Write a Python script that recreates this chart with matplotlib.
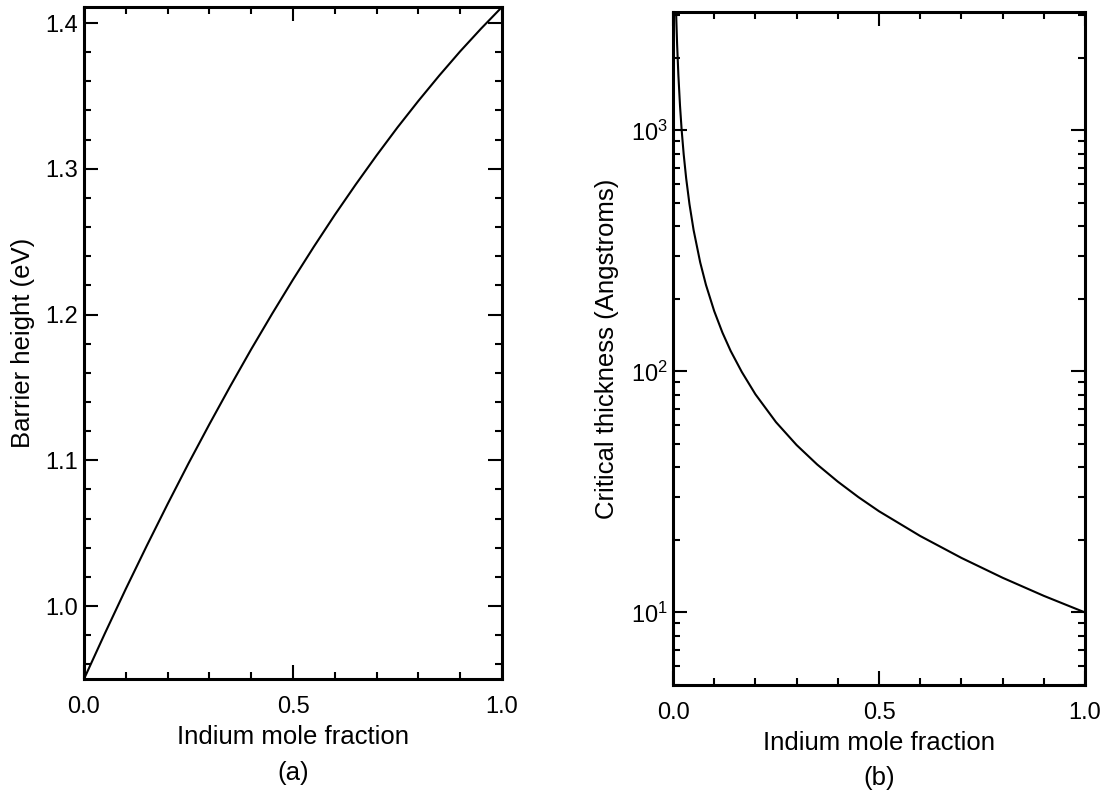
import matplotlib
matplotlib.use("Agg")
import matplotlib.pyplot as plt
from matplotlib.ticker import MultipleLocator, FixedLocator, LogLocator, NullFormatter, LogFormatterMathtext

plt.rcParams['font.family'] = ['Liberation Sans', 'DejaVu Sans']
plt.rcParams['mathtext.fontset'] = 'custom'
plt.rcParams['mathtext.rm'] = 'Liberation Sans'
plt.rcParams['mathtext.it'] = 'Liberation Sans:italic'

# (a) barrier height versus indium mole fraction
indium_a = [0.00, 0.05, 0.10, 0.15, 0.20, 0.25, 0.30, 0.35, 0.40, 0.45, 0.50,
            0.55, 0.60, 0.65, 0.70, 0.75, 0.80, 0.85, 0.90, 0.95, 1.00]
barrier_ev = [0.9500, 0.9813, 1.0118, 1.0413, 1.0700, 1.0979, 1.1248, 1.1509, 1.1762,
              1.2005, 1.2240, 1.2466, 1.2684, 1.2892, 1.3092, 1.3284, 1.3466, 1.3640,
              1.3806, 1.3962, 1.4110]

# (b) critical thickness versus indium mole fraction
indium_b = [0.006, 0.008, 0.010, 0.013, 0.017, 0.021, 0.026, 0.032, 0.040, 0.050,
            0.066, 0.080, 0.100, 0.120, 0.140, 0.167, 0.200, 0.250, 0.300, 0.350,
            0.400, 0.450, 0.500, 0.600, 0.700, 0.800, 0.900, 1.000]
thickness_ang = [3985, 2904, 2272, 1702, 1267, 1004, 794, 632, 494, 386,
                 283.5, 228.6, 178, 144.9, 121.6, 99.5, 80.4, 61.6, 49.5, 41.1,
                 34.9, 30.1, 26.3, 20.76, 16.84, 13.93, 11.72, 10]

x_ticks = [0.0, 0.5, 1.0]
x_tick_labels = ['0.0', '0.5', '1.0']
x_label = 'Indium mole fraction'

TICK_FS = 17
LABEL_FS = 18.5

fig = plt.figure(figsize=(11.1, 7.94), dpi=100)
ax_a = fig.add_axes([84 / 1110, (794 - 679) / 794, 418 / 1110, 672 / 794])
ax_b = fig.add_axes([673 / 1110, (794 - 685) / 794, 412 / 1110, 673 / 794])


def style(ax):
    for sp in ax.spines.values():
        sp.set_linewidth(2.2)
    ax.tick_params(which='both', direction='in', top=True, right=True, width=1.5,
                   colors='black', labelsize=TICK_FS)
    ax.tick_params(which='major', length=10)
    ax.tick_params(which='minor', length=5)
    ax.tick_params(axis='x', which='major', pad=12)
    ax.tick_params(axis='y', which='major', pad=4)
    ax.xaxis.set_major_locator(FixedLocator(x_ticks))
    ax.set_xticklabels(x_tick_labels)
    ax.xaxis.set_minor_locator(MultipleLocator(0.1))
    ax.set_xlim(0, 1)
    ax.set_xlabel(x_label, fontsize=LABEL_FS, labelpad=5)


# panel (a)
ax_a.plot(indium_a, barrier_ev, color='black', lw=1.5)
style(ax_a)
ax_a.set_ylim(0.95, 1.411)
ax_a.yaxis.set_major_locator(MultipleLocator(0.1))
ax_a.yaxis.set_minor_locator(MultipleLocator(0.02))
ax_a.yaxis.set_major_formatter(plt.FormatStrFormatter('%.1f'))
ax_a.set_ylabel('Barrier height (eV)', fontsize=LABEL_FS, labelpad=8)
ax_a.text(0.5, -0.14, '(a)', transform=ax_a.transAxes, ha='center', va='center',
          fontsize=LABEL_FS)

# panel (b)
ax_b.plot(indium_b, thickness_ang, color='black', lw=1.5)
style(ax_b)
ax_b.set_yscale('log')
ax_b.set_ylim(5, 3100)
ax_b.yaxis.set_major_locator(FixedLocator([10, 100, 1000]))
ax_b.yaxis.set_major_formatter(LogFormatterMathtext())
ax_b.yaxis.set_minor_locator(LogLocator(base=10, subs=range(2, 10)))
ax_b.yaxis.set_minor_formatter(NullFormatter())
ax_b.set_ylabel('Critical thickness (Angstroms)', fontsize=LABEL_FS, labelpad=8)
ax_b.text(0.5, -0.138, '(b)', transform=ax_b.transAxes, ha='center', va='center',
          fontsize=LABEL_FS)

fig.savefig('out.png', dpi=100)
